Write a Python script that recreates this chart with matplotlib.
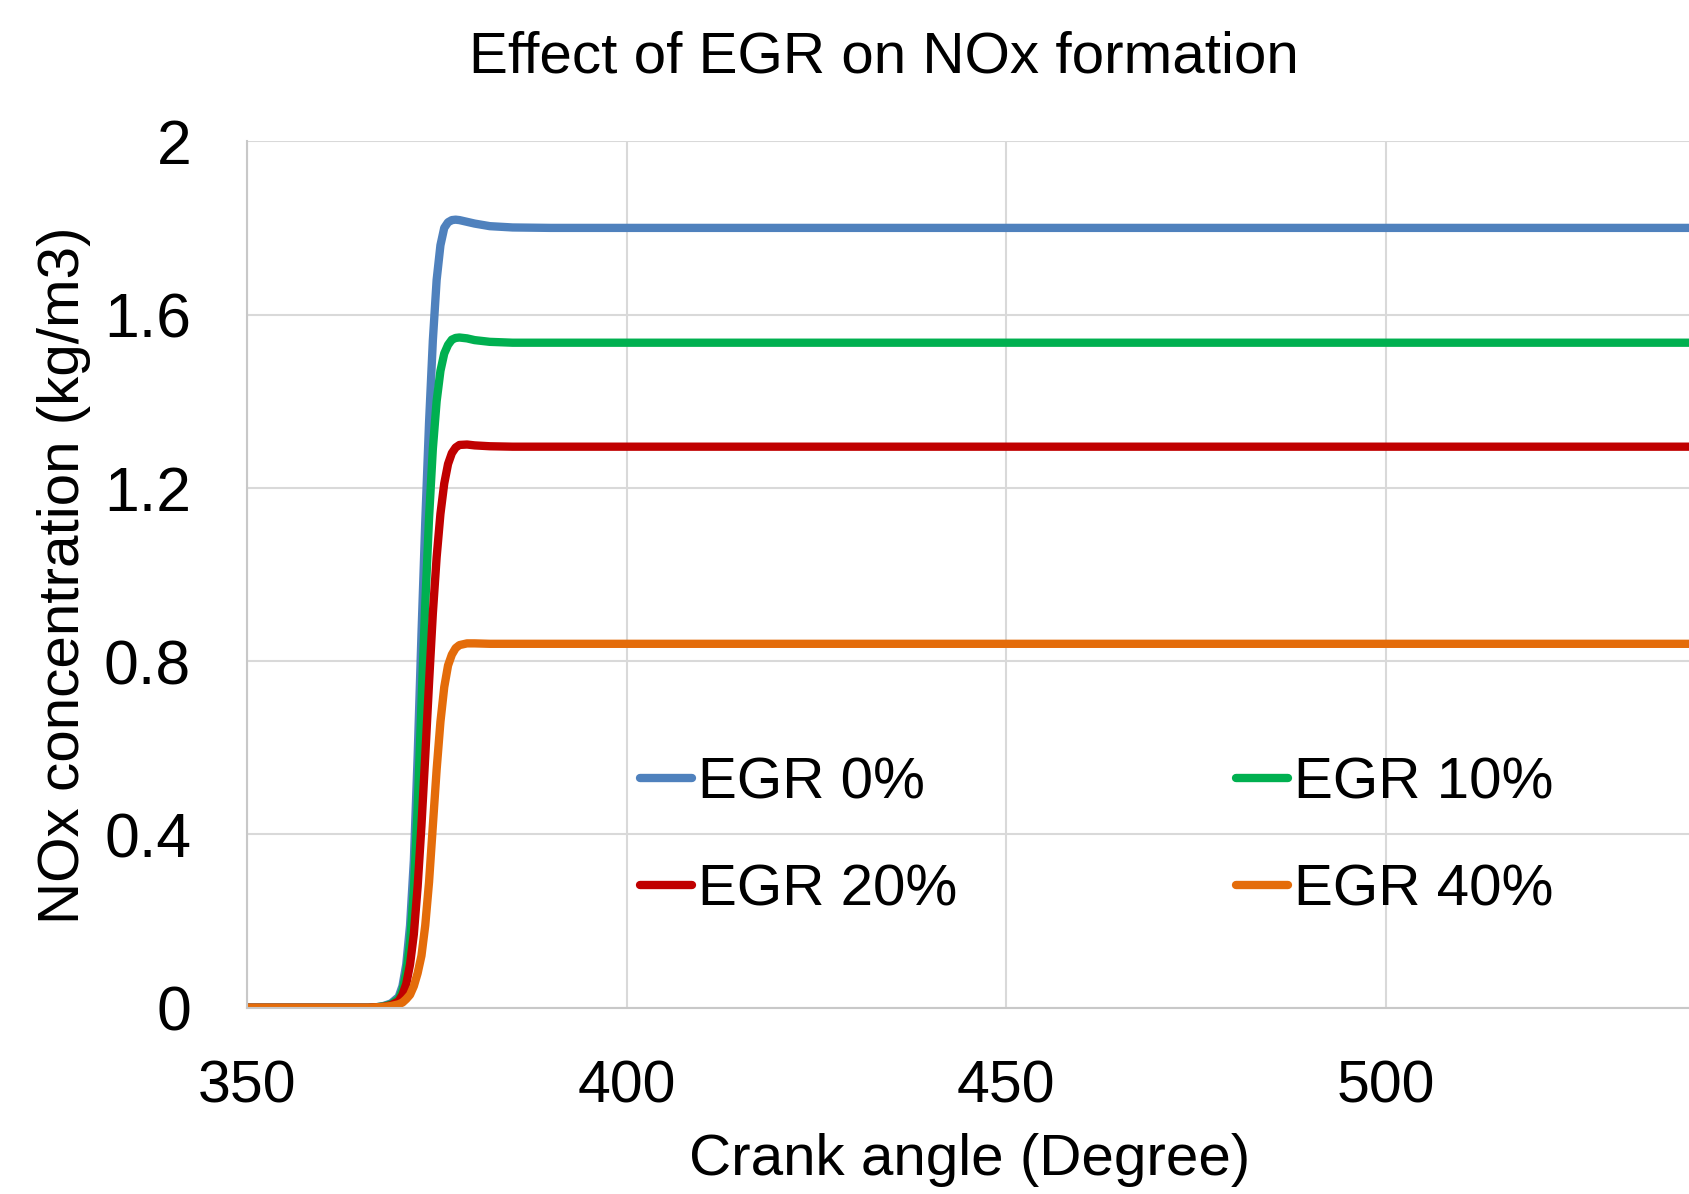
import numpy as np
import matplotlib.pyplot as plt

plt.rcParams['font.family'] = ['Liberation Sans', 'DejaVu Sans']

# crank angle (deg)
crank = [350, 366, 367, 368, 369, 370, 370.5, 371, 371.5, 372, 372.5, 373, 373.5,
         374, 374.5, 375, 375.5, 376, 376.5, 377, 377.5, 378, 379, 380, 382, 385,
         390, 400, 540]

# NOx concentration (kg/m3) for each EGR rate
nox_egr0 = [0, 0, 0.001, 0.004, 0.01, 0.025, 0.05, 0.10, 0.19, 0.34, 0.58, 0.86, 1.12,
            1.35, 1.54, 1.68, 1.76, 1.80, 1.813, 1.818, 1.819, 1.818, 1.814, 1.81, 1.804,
            1.801, 1.80, 1.80, 1.80]
nox_egr10 = [0, 0, 0.001, 0.003, 0.008, 0.02, 0.04, 0.08, 0.15, 0.27, 0.46, 0.70, 0.93,
             1.13, 1.29, 1.40, 1.47, 1.51, 1.53, 1.542, 1.546, 1.547, 1.545, 1.541, 1.537,
             1.535, 1.535, 1.535, 1.535]
nox_egr20 = [0, 0, 0.001, 0.002, 0.006, 0.015, 0.03, 0.055, 0.10, 0.17, 0.28, 0.42, 0.58,
             0.75, 0.91, 1.04, 1.14, 1.21, 1.255, 1.28, 1.293, 1.299, 1.300, 1.298, 1.296,
             1.295, 1.295, 1.295, 1.295]
nox_egr40 = [0, 0, 0.001, 0.002, 0.004, 0.008, 0.012, 0.02, 0.03, 0.05, 0.08, 0.12, 0.19,
             0.29, 0.42, 0.55, 0.66, 0.74, 0.79, 0.815, 0.83, 0.837, 0.841, 0.841, 0.840,
             0.840, 0.840, 0.840, 0.840]

labels = ['EGR 0%', 'EGR 10%', 'EGR 20%', 'EGR 40%']
colores = ['#4f81bd', '#00b050', '#c00000', '#e46c0a']
series = [nox_egr0, nox_egr10, nox_egr20, nox_egr40]

fig = plt.figure(figsize=(16.9, 11.94), dpi=100)
ax = fig.add_axes([0.146, 0.156, 0.854, 0.7257])

for y, lab, c in zip(series, labels, colores):
    ax.plot(crank, y, color=c, lw=6, label=lab, solid_capstyle='round')

ax.set_xlim(350, 540)
ax.set_ylim(0, 2)
ax.set_xticks([350, 400, 450, 500])
ax.set_yticks([0, 0.4, 0.8, 1.2, 1.6, 2])
ax.set_yticklabels(['0', '0.4', '0.8', '1.2', '1.6', '2'])
ax.tick_params(length=0)
ax.tick_params(axis='y', pad=40, labelsize=45)
ax.tick_params(axis='x', pad=37, labelsize=42.5)
ax.grid(True, color='#d9d9d9', lw=1.5)
ax.set_axisbelow(True)
for s in ['top', 'right']:
    ax.spines[s].set_visible(False)
for s in ['left', 'bottom']:
    ax.spines[s].set_color('#c8c8c8')
    ax.spines[s].set_linewidth(1.5)

# orden de la leyenda: 0%, 10% arriba / 20%, 40% abajo
h, l = ax.get_legend_handles_labels()
orden = [0, 2, 1, 3]
ax.legend([h[i] for i in orden], [l[i] for i in orden], ncol=2, frameon=False,
          fontsize=42, loc='center', bbox_to_anchor=(0.589, 0.197),
          handlelength=0.9, handletextpad=0.1, columnspacing=4.77,
          labelspacing=0.92, borderpad=0)

fig.text(0.523, 0.939, 'Effect of EGR on NOx formation', fontsize=42,
         ha='center', va='baseline')
fig.text(0.574, 0.016, 'Crank angle (Degree)', fontsize=42,
         ha='center', va='baseline')
fig.text(0.038, 0.518, 'NOx concentration (kg/m3)', fontsize=42,
         ha='center', va='center', rotation=90)

plt.savefig('out.png', dpi=100)
